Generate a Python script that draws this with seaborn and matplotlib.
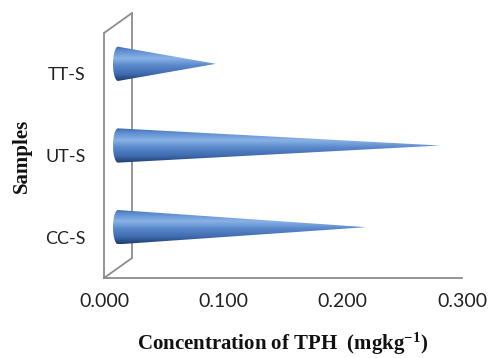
import numpy as np
import pandas as pd
import matplotlib
matplotlib.use('Agg')
import matplotlib.pyplot as plt
import matplotlib.transforms as mtransforms
from matplotlib.colors import LinearSegmentedColormap
from matplotlib.patches import Polygon
import seaborn as sns

# data (top to bottom as drawn)
samples = ['TT-S', 'UT-S', 'CC-S']
tph = [0.082, 0.270, 0.208]
xticks = [0.0, 0.1, 0.2, 0.3]
xticklabels = ['0.000', '0.100', '0.200', '0.300']

sns.set_style('white')
plt.rcParams['font.family'] = ['Lato', 'DejaVu Sans']
plt.rcParams['mathtext.fontset'] = 'custom'
plt.rcParams['mathtext.rm'] = 'Liberation Serif:bold'
plt.rcParams['mathtext.it'] = 'Liberation Serif:bold'
plt.rcParams['mathtext.bf'] = 'Liberation Serif:bold'

df = pd.DataFrame({'sample': samples, 'tph': tph})

fig = plt.figure(figsize=(4.94, 3.58), dpi=100)
ax = fig.add_axes([104 / 494, 1 - 278 / 358, 358 / 494, 245 / 358])

bar_w = 0.42
sns.barplot(data=df, x='tph', y='sample', orient='h', width=bar_w,
            color='#4f81bd', ax=ax)

ax.set_xlim(0, 0.3)
ax.set_ylim(2.5, -0.5)

# depth offset: cones sit halfway back into the 3D box
grey = '#8c8c8c'
depth = mtransforms.ScaledTranslation(0.28, 0.20, fig.dpi_scale_trans)
half = mtransforms.ScaledTranslation(0.14, 0.10, fig.dpi_scale_trans)
cone_tr = ax.transData + half

cmap = LinearSegmentedColormap.from_list('cone', [
    (0.0, '#3b69a8'), (0.12, '#5b8bd0'), (0.35, '#8ab2e6'),
    (0.55, '#5b89cc'), (0.8, '#3e6bae'), (1.0, '#1f3c6c')])
grad = np.linspace(0, 1, 256).reshape(-1, 1)

a = 0.3 / 358 * 5  # half-width of the base ellipse
for rect in list(ax.patches):
    y0, h, v = rect.get_y(), rect.get_height(), rect.get_width()
    c = y0 + h / 2
    rect.set_visible(False)
    t = np.linspace(np.pi / 2, 3 * np.pi / 2, 40)
    ex = a * np.cos(t)
    ey = c - (h / 2) * np.sin(t)
    pts = np.column_stack([np.r_[ex, v], np.r_[ey, c]])
    poly = Polygon(pts, closed=True, transform=cone_tr, facecolor='none',
                   edgecolor='none')
    ax.add_patch(poly)
    im = ax.imshow(grad, cmap=cmap, aspect='auto', origin='upper',
                   extent=(-a, v, y0 + h, y0), transform=cone_tr,
                   interpolation='bilinear', zorder=3)
    im.set_clip_path(poly)

ax.set_xlim(0, 0.3)
ax.set_ylim(2.5, -0.5)

# back wall of the 3D box
back = ax.transAxes + depth
ax.plot([0, 0], [0, 1], color=grey, lw=1.3, transform=back, clip_on=False, zorder=1)
inv = ax.transAxes.inverted()
for yy in (0, 1):
    p0 = (0, yy)
    p1 = inv.transform(back.transform((0, yy)))
    ax.plot([p0[0], p1[0]], [p0[1], p1[1]], color=grey, lw=1.3,
            transform=ax.transAxes, clip_on=False, zorder=1)

for s in ['top', 'right']:
    ax.spines[s].set_visible(False)
ax.spines['left'].set_color(grey)
ax.spines['left'].set_linewidth(1.3)
ax.spines['bottom'].set_color(grey)
ax.spines['bottom'].set_linewidth(1.3)

ax.set_xticks(xticks)
ax.set_xticklabels(xticklabels)
ax.tick_params(axis='x', direction='out', length=4, width=1.2, color=grey,
               labelsize=14, pad=7, labelcolor='#222222')
ax.tick_params(axis='y', length=0, labelsize=13, pad=13, labelcolor='#222222')

ax.set_xlabel(r'Concentration of TPH  (mgkg$^{-1}$)', fontsize=15,
              family='Liberation Serif', fontweight='bold', color='#111111')
ax.set_ylabel('Samples', fontsize=15, family='Liberation Serif',
              fontweight='bold', color='#111111')
ax.xaxis.set_label_coords(0.5, -0.215)
ax.yaxis.set_label_coords(-0.20, 0.5)
ax.xaxis.label.set_va('top')

fig.savefig('out.png', dpi=100)
